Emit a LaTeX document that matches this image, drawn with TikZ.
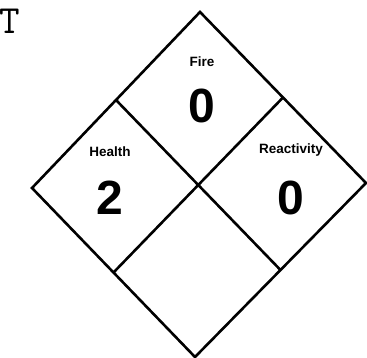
\documentclass[tikz,border=0pt]{standalone}
\usepackage{fontspec}
\setmainfont{Liberation Sans}
\usetikzlibrary{positioning, calc}

\begin{document}
\begin{tikzpicture}[
    x=1pt, y=-1pt,
    border/.style={draw=black, line width=2.6pt, line join=miter},
    hazard/.style={font=\fontsize{13.5}{14}\selectfont\bfseries, inner sep=0pt},
    rating/.style={font=\fontsize{48}{48}\selectfont\bfseries, inner sep=0pt},
    letter/.style={font=\fontsize{40}{40}\selectfont\ttfamily\addfontfeatures{FakeBold=2.5}, inner sep=0pt, anchor=north west}
]
    \useasboundingbox (0,0) rectangle (367,358);

    % corners of the diamond
    \coordinate (top) at (200,12);
    \coordinate (rgt) at (366,183);
    \coordinate (bot) at (195,357);
    \coordinate (lft) at (32,188);

    % midpoints of the sides
    \coordinate (tl) at ($(top)!0.5!(lft)$);
    \coordinate (tr) at ($(top)!0.5!(rgt)$);
    \coordinate (bl) at ($(bot)!0.5!(lft)$);
    \coordinate (br) at ($(bot)!0.5!(rgt)$);

    \draw[border] (top) -- (rgt) -- (bot) -- (lft) -- cycle;
    \draw[border] (tl) -- (br);
    \draw[border] (tr) -- (bl);

    \node[letter] (mark) at (-0.5,9) {T};

    \node[hazard] (fire) at (202,62) {Fire};
    \node[rating, below=22pt of fire] (firenum) {0};
    \node[hazard] (health) at (110,152) {Health};
    \node[rating, below=24pt of health] (healthnum) {2};
    \node[hazard] (react) at (291,150) {Reactivity};
    \node[rating, below=24pt of react] (reactnum) {0};
\end{tikzpicture}
\end{document}
